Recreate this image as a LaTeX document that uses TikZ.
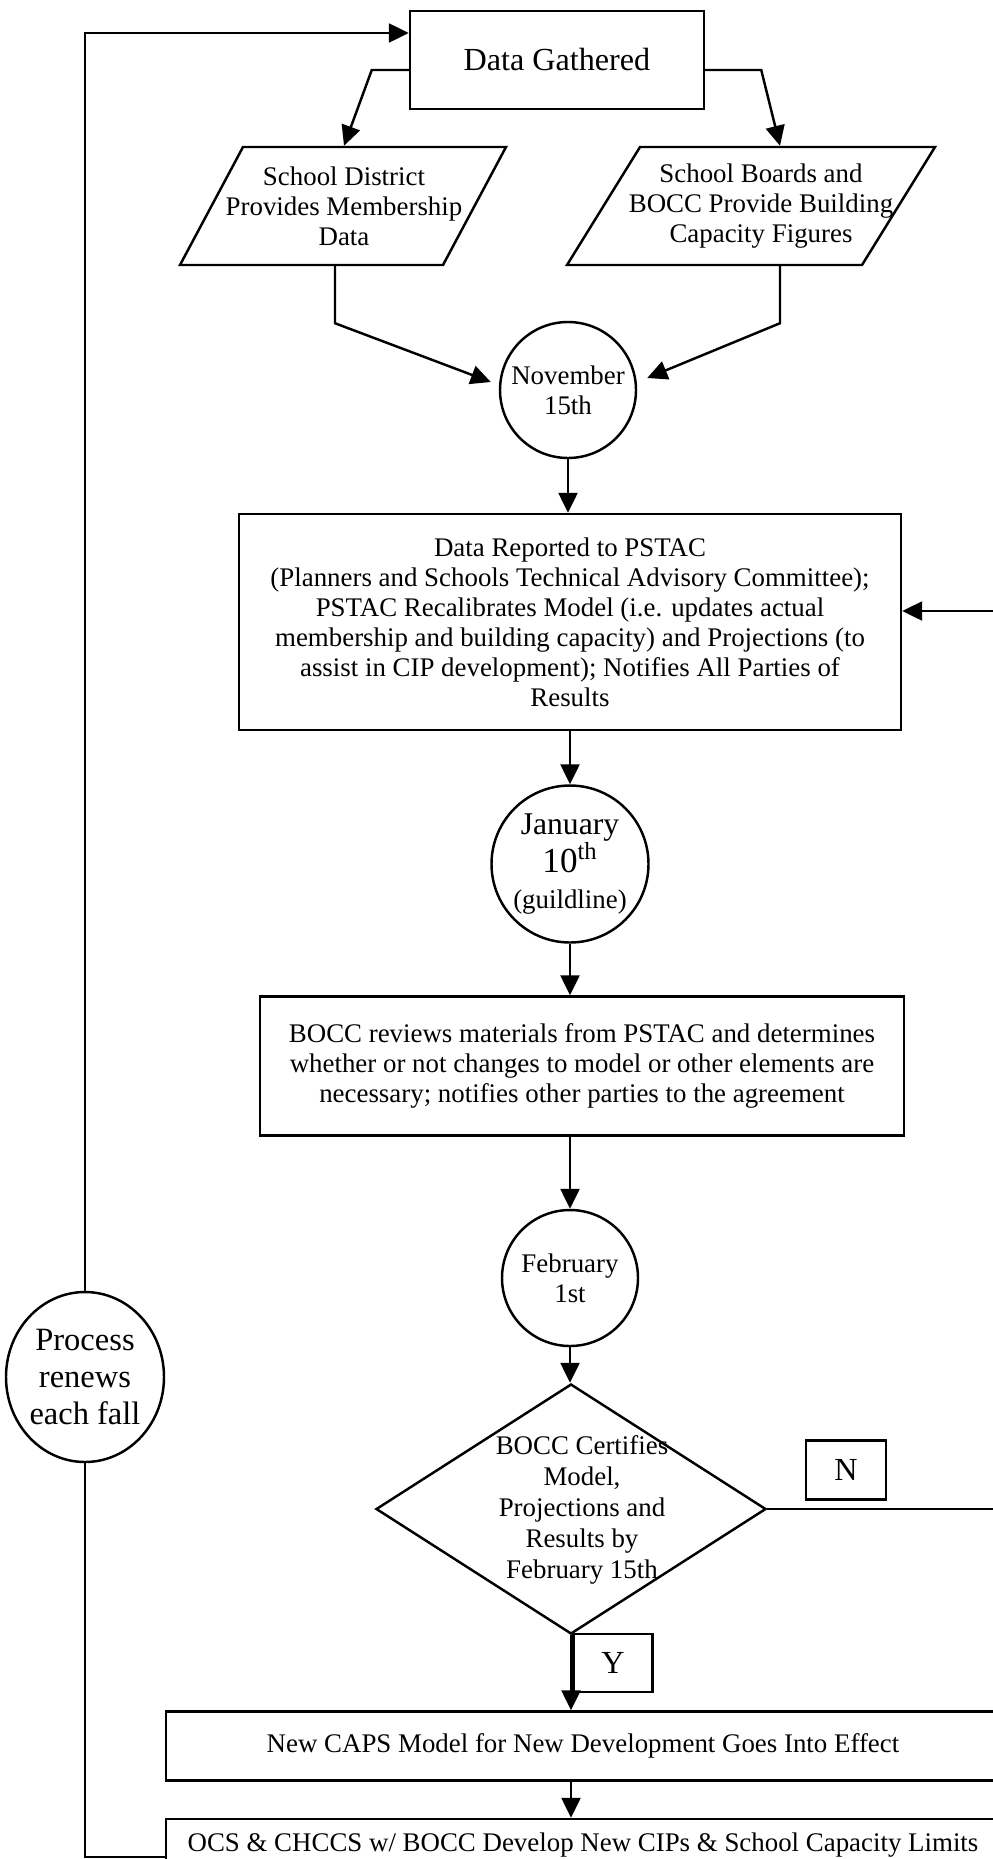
\documentclass[tikz,border=0pt]{standalone}
\usepackage{fontspec}
\setmainfont{Liberation Serif}
\usetikzlibrary{arrows.meta,shapes.geometric}
\newlength{\pxu}
\setlength{\pxu}{0.02cm}
\newcommand{\bodysize}{\fontsize{15.3}{17.1}\selectfont}
\newcommand{\headsize}{\fontsize{18.3}{21}\selectfont}

\begin{document}
\begin{tikzpicture}[x=0.02cm,y=-0.02cm,line width=1.4pt,font=\bodysize,
	box/.style={draw,rectangle,align=center,inner sep=0pt},
	txt/.style={align=center,inner sep=0pt},
	date/.style={draw,circle,align=center,inner sep=0pt},
	arr/.style={-{Triangle[length=0.4cm,width=0.38cm]}}]
	\path[use as bounding box,fill=white] (0,0) rectangle (993,1859);
	\clip (0,0) rectangle (993,1859);
	% gathering
	\node[box,minimum width=294\pxu,minimum height=98\pxu,font=\headsize] (dg) at (557,60) {Data Gathered};
	\node[txt,minimum height=118\pxu] (sdist) at (344,206) {School District\\Provides Membership\\Data};
	\node[txt,minimum height=118\pxu] (sboard) at (761,206) {School Boards and\\BOCC Provide Building\\Capacity Figures};
	\draw (sdist.center) ++(-164,59) -- ++(263,0) -- ++(63,-118) -- ++(-263,0) -- cycle;
	\draw (sboard.center) ++(-194,59) -- ++(295,0) -- ++(73,-118) -- ++(-295,0) -- cycle;
	\node[date,minimum size=136\pxu] (nov) at (568,390) {November\\15th};
	% review
	\node[box,minimum width=662\pxu,minimum height=216\pxu] (pstac) at (570,622) {Data Reported to PSTAC\\(Planners and Schools Technical Advisory Committee);\\PSTAC Recalibrates Model (i.e. updates actual\\membership and building capacity) and Projections (to\\assist in CIP development); Notifies All Parties of\\Results};
	\node[date,minimum size=157\pxu,font=\fontsize{18}{20.5}\selectfont] (jan) at (570,864) {January\\{\fontsize{20}{20.5}\selectfont 10\textsuperscript{th}}\\{\bodysize(guildline)}};
	\node[box,minimum width=644\pxu,minimum height=139\pxu] (bocc) at (582,1066) {BOCC reviews materials from PSTAC and determines\\whether or not changes to model or other elements are\\necessary; notifies other parties to the agreement};
	\node[date,minimum size=136\pxu] (feb) at (570,1278) {February\\1st};
	% decision
	\node[draw,diamond,minimum width=390\pxu,minimum height=250\pxu,inner sep=0pt] (cert) at (571,1509) {};
	\node[txt,font=\fontsize{15.3}{17.6}\selectfont] (certtxt) at (582,1510) {BOCC Certifies\\Model,\\Projections and\\Results by\\February 15th};
	\node[box,minimum width=80\pxu,minimum height=59\pxu,font=\headsize] (nlab) at (846,1470) {N};
	\node[box,minimum width=79\pxu,minimum height=58\pxu,font=\headsize] (ylab) at (613,1663) {Y};
	\node[box,minimum width=834\pxu,minimum height=69\pxu] (caps) at (583,1746) {New CAPS Model for New Development Goes Into Effect};
	\node[box,minimum width=834\pxu,minimum height=52\pxu] (ocs) at (583,1845) {OCS \& CHCCS w/ BOCC Develop New CIPs \& School Capacity Limits};
	\node[draw,ellipse,minimum width=158\pxu,minimum height=170\pxu,inner sep=0pt,align=center,font=\fontsize{18.5}{21}\selectfont] (proc) at (85,1377) {Process\\renews\\each fall};
	% connectors
	\draw[arr] ([yshift=-10\pxu]dg.west) -- ++(-37,0) -- (sdist.north);
	\draw[arr] ([yshift=-10\pxu]dg.east) -- ++(56,0) -- ([xshift=19\pxu]sboard.north);
	\draw[arr] ([xshift=-9\pxu]sdist.south) -- ++(0,57) -- ([xshift=-8\pxu,yshift=8\pxu]nov.west);
	\draw[arr] ([xshift=19\pxu]sboard.south) -- ++(0,57) -- ([xshift=10\pxu,yshift=12\pxu]nov.east);
	\draw[arr] (nov) -- (nov |- pstac.north);
	\draw[arr] (pstac.south -| jan) -- (jan);
	\draw[arr] (jan) -- (jan |- bocc.north);
	\draw[arr] (feb |- bocc.south) -- (feb);
	\draw[arr] (feb) -- (feb |- cert.north);
	\draw[arr] (cert) -- (cert |- caps.north);
	\draw[arr] (cert |- caps.south) -- (cert |- ocs.north);
	\coordinate (rloop) at (1012,0);
	\draw[arr] (cert.east) -- (cert.east -| rloop) |- ([yshift=11\pxu]pstac.east);
	\draw ([yshift=-12\pxu]ocs.west) -| (proc.south);
	\draw[arr] (proc.north) |- ([yshift=27\pxu]dg.west);
\end{tikzpicture}
\end{document}
